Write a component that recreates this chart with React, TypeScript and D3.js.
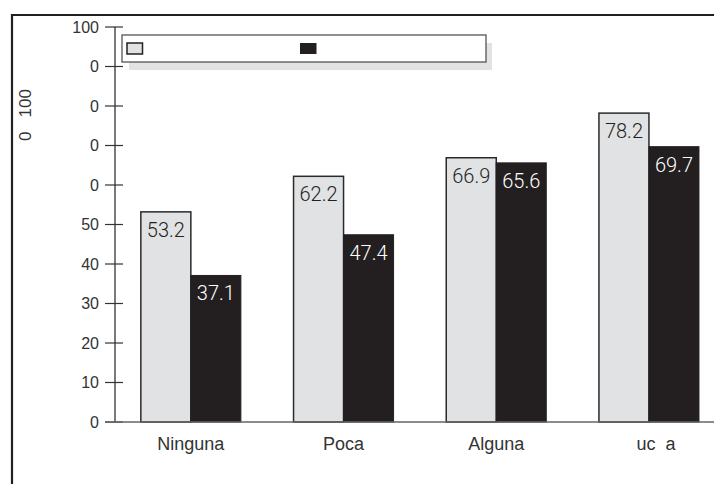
import React from "react";
import * as d3 from "d3";

const categories = ["Ninguna", "Poca", "Alguna", "uc  a"];
const seriesA = [53.2, 62.2, 66.9, 78.2];
const seriesB = [37.1, 47.4, 65.6, 69.7];
const tickValues = [0, 10, 20, 30, 40, 50, 60, 70, 80, 90, 100];
const tickLabels = ["0", "10", "20", "30", "40", "50", "0", "0", "0", "0", "100"];
const seriesKeys = ["a", "b"];
const yTitle = "0   100";

const W = 714;
const H = 484;
const LIGHT = "#e1e2e4";
const DARK = "#231f20";

export default function App() {
  const x = d3.scaleBand<string>().domain(categories).range([114.5, 725.3]).paddingInner(0.345).paddingOuter(0.1725);
  const x1 = d3.scaleBand<string>().domain(seriesKeys).range([0, x.bandwidth()]);
  const y = d3.scaleLinear().domain([0, 100]).range([422, 27]);

  const bars = categories.flatMap((c, i) => [
    { c, k: "a", v: seriesA[i] },
    { c, k: "b", v: seriesB[i] },
  ]);

  return (
    <svg width={W} height={H} style={{ position: "absolute", left: 0, top: 0, display: "block" }}>
      <rect width={W} height={H} fill="#fff" />
      {/* frame */}
      <line x1={12} y1={14} x2={12} y2={H} stroke={DARK} strokeWidth={2.2} />
      <line x1={11} y1={15} x2={W} y2={15} stroke={DARK} strokeWidth={2.2} />

      {/* y axis */}
      <line x1={115} x2={115} y1={y(100)} y2={y(0)} stroke="#222" strokeWidth={1.2} />
      {tickValues.map((t, i) => (
        <g key={t}>
          <line x1={105} x2={123} y1={y(t)} y2={y(t)} stroke="#333" strokeWidth={1.2} />
          <text
            x={99}
            y={y(t)}
            dy="0.36em"
            textAnchor="end"
            fontFamily="Liberation Sans, Arial, sans-serif"
            fontSize={16}
            fill="#333"
          >
            {tickLabels[i]}
          </text>
        </g>
      ))}
      <text
        transform={`translate(31,115) rotate(-90)`}
        textAnchor="middle"
        fontFamily="Liberation Sans, Arial, sans-serif"
        fontSize={17}
        fill="#333"
        style={{ whiteSpace: "pre" }}
      >
        {yTitle}
      </text>

      {/* bars */}
      {bars.map((d) => {
        const bx = (x(d.c) ?? 0) + (x1(d.k) ?? 0);
        const bw = x1.bandwidth();
        const top = y(d.v);
        const isA = d.k === "a";
        return (
          <g key={d.c + d.k}>
            <rect
              x={bx}
              y={top}
              width={bw}
              height={y(0) - top}
              fill={isA ? LIGHT : DARK}
              stroke={isA ? "#2a2a2a" : DARK}
              strokeWidth={isA ? 1.5 : 1}
            />
            <text
              x={bx + bw / 2}
              y={top + 25}
              textAnchor="middle"
              fontFamily="Roboto, sans-serif"
              fontWeight={300}
              fontSize={20}
              fill={isA ? "#231f20" : "#fff"}
            >
              {d.v.toFixed(1)}
            </text>
          </g>
        );
      })}

      {/* baseline */}
      <line x1={105} x2={W} y1={y(0)} y2={y(0)} stroke="#666" strokeWidth={1.5} />

      {/* category labels */}
      {categories.map((c, i) => (
        <text
          key={c}
          x={(x(c) ?? 0) + x.bandwidth() / 2 + (i === 3 ? 7 : 0)}
          y={450}
          textAnchor="middle"
          fontFamily="Liberation Sans, Arial, sans-serif"
          fontSize={18}
          fill="#333"
          style={{ whiteSpace: "pre" }}
        >
          {c}
        </text>
      ))}

      {/* legend */}
      <rect x={129} y={43} width={363} height={27} fill="#e1e2e4" />
      <rect x={122} y={35} width={364} height={27} fill="#fff" stroke="#555" strokeWidth={1.3} />
      <rect x={127} y={43} width={15.5} height={11} fill={LIGHT} stroke="#222" strokeWidth={1.5} />
      <rect x={300} y={43} width={16.5} height={11} fill={DARK} />
    </svg>
  );
}
